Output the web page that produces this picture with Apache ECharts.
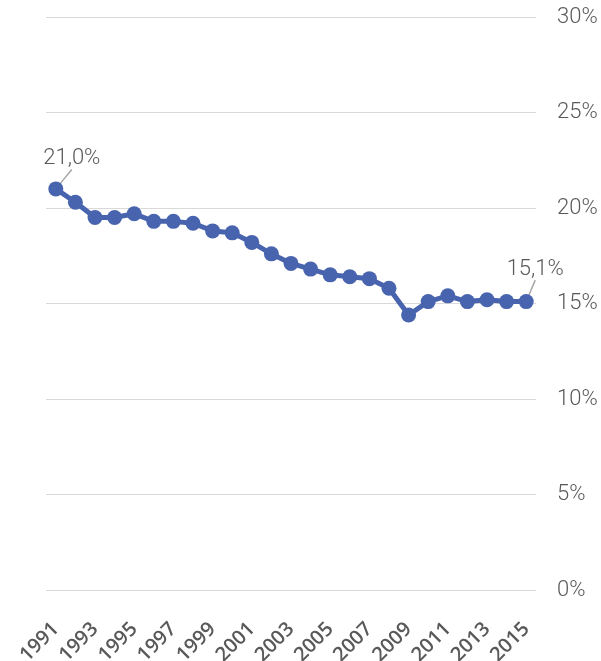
<!DOCTYPE html>
<html>
<head>
<meta charset="utf-8">
<script src="https://cdn.jsdelivr.net/npm/echarts@6/dist/echarts.min.js"></script>
<style>
  html, body { margin: 0; padding: 0; background: #fff; }
  #chart { width: 601px; height: 661px; }
</style>
</head>
<body>
<div id="chart"></div>
<script>
// years on the x axis
const years = [
  "1991", "1992", "1993", "1994", "1995", "1996", "1997", "1998", "1999",
  "2000", "2001", "2002", "2003", "2004", "2005", "2006", "2007", "2008",
  "2009", "2010", "2011", "2012", "2013", "2014", "2015"
];
// share in percent
const shareValues = [
  21.0, 20.3, 19.5, 19.5, 19.7, 19.3, 19.3, 19.2, 18.8,
  18.7, 18.2, 17.6, 17.1, 16.8, 16.5, 16.4, 16.3, 15.8,
  14.4, 15.1, 15.4, 15.1, 15.2, 15.1, 15.1
];
const labelledIdx = [0, 24]; // first and last points carry a label
const yTicks = [0, 5, 10, 15, 20, 25, 30];

const chart = echarts.init(document.getElementById("chart"));

const fmt = (v) => v.toFixed(1).replace(".", ",") + "%";

const option = {
  backgroundColor: "#ffffff",
  animation: false,
  grid: { left: 46, right: 65, top: 17, bottom: 71, outerBoundsMode: "none", containLabel: false },
  xAxis: {
    type: "category",
    data: years,
    boundaryGap: true,
    axisLine: { show: false },
    axisTick: { show: false },
    axisLabel: {
      interval: 1,
      rotate: 45,
      margin: 36,
      color: "#595959",
      fontFamily: "Open Sans",
      fontWeight: 600,
      fontSize: 20,
    },
  },
  yAxis: {
    type: "value",
    position: "right",
    min: yTicks[0],
    max: yTicks[yTicks.length - 1],
    interval: 5,
    axisLine: { show: false },
    axisTick: { show: false },
    splitLine: { lineStyle: { color: "#d9d9d9", width: 1 } },
    axisLabel: {
      margin: 21,
      align: "left",
      color: "#595959",
      fontFamily: "Roboto",
      fontWeight: 300,
      fontSize: 22,
      formatter: (v) => v + "%",
    },
  },
  series: [
    {
      type: "line",
      data: shareValues.map((v, i) =>
        labelledIdx.includes(i)
          ? { value: v, label: { show: true } }
          : v
      ),
      symbol: "circle",
      symbolSize: 15,
      showAllSymbol: true,
      lineStyle: { color: "#4964ae", width: 5 },
      itemStyle: { color: "#4964ae" },
      label: {
        show: false,
        position: "top",
        color: "#595959",
        fontFamily: "Roboto",
        fontWeight: 300,
        fontSize: 22,
        formatter: (p) => fmt(p.value),
      },
      labelLine: {
        show: true,
        lineStyle: { color: "#a6a6a6", width: 1.5 },
      },
      labelLayout: (p) => {
        if (p.dataIndex === 0) return { dx: 16, dy: -7 };
        if (p.dataIndex === 24) return { dx: 9, dy: -9 };
        return {};
      },
    },
  ],
};

chart.setOption(option);
</script>
</body>
</html>
